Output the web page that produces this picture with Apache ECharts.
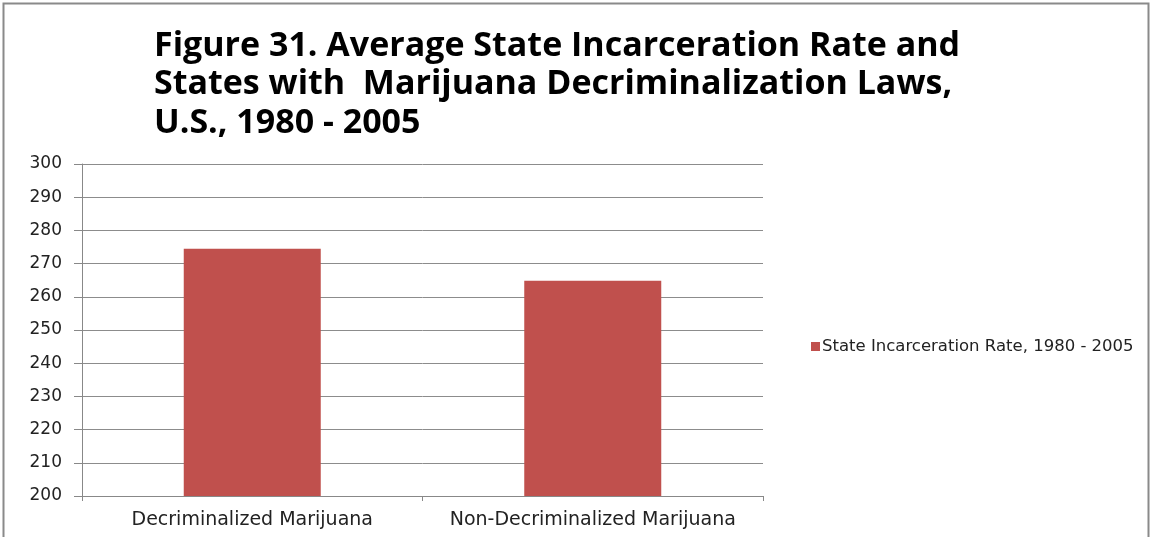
<!DOCTYPE html>
<html>
<head>
<meta charset="utf-8">
<script src="https://cdn.jsdelivr.net/npm/echarts@6/dist/echarts.min.js"></script>
<style>
  html, body { margin: 0; padding: 0; background: #fff; }
  #chart { width: 1152px; height: 537px; }
</style>
</head>
<body>
<div id="chart"></div>
<script>
// Categories and values
const categories = ['Decriminalized Marijuana', 'Non-Decriminalized Marijuana'];
const seriesName = 'State Incarceration Rate, 1980 - 2005';
const rates = [274.5, 264.8];
const yMin = 200, yMax = 300, yStep = 10;
const titleLines = [
  'Figure 31. Average State Incarceration Rate and',
  'States with  Marijuana Decriminalization Laws,',
  'U.S., 1980 - 2005'
];

const chart = echarts.init(document.getElementById('chart'));
chart.setOption({
  backgroundColor: '#fff',
  animation: false,
  title: {
    text: titleLines.join('\n'),
    left: 149,
    top: 22,
    textStyle: {
      fontFamily: 'Open Sans',
      fontWeight: 'bold',
      fontSize: 34,
      lineHeight: 38.5,
      color: '#000'
    }
  },
  graphic: [{
    type: 'rect',
    shape: { x: 3.5, y: 3.5, width: 1145, height: 540 },
    style: { fill: 'none', stroke: '#8a8a8a', lineWidth: 2 },
    silent: true
  }],
  legend: {
    data: [seriesName],
    left: 806,
    top: 333,
    itemWidth: 9,
    itemHeight: 9,
    itemGap: 4,
    icon: 'rect',
    textStyle: { fontFamily: 'DejaVu Sans', fontSize: 16.5, color: '#222', padding: [0, 0, 0, -3] }
  },
  grid: { left: 82, top: 164, width: 681, height: 332, containLabel: false },
  xAxis: {
    type: 'category',
    data: categories,
    axisLine: { lineStyle: { color: '#888', width: 1 } },
    axisTick: { show: true, interval: 0, length: 5, lineStyle: { color: '#888' } },
    axisLabel: { interval: 0, fontFamily: 'DejaVu Sans', fontSize: 19, color: '#222', margin: 15 }
  },
  yAxis: {
    type: 'value',
    min: yMin,
    max: yMax,
    interval: yStep,
    axisLine: { show: true, lineStyle: { color: '#888' } },
    axisTick: { show: true, length: 8, lineStyle: { color: '#888' } },
    splitLine: { lineStyle: { color: '#8c8c8c', width: 1 } },
    axisLabel: { fontFamily: 'DejaVu Sans', fontSize: 17, color: '#222', margin: 20 }
  },
  series: [{
    name: seriesName,
    type: 'bar',
    data: rates,
    barWidth: 137,
    itemStyle: { color: '#C0504D' }
  }]
});
</script>
</body>
</html>
